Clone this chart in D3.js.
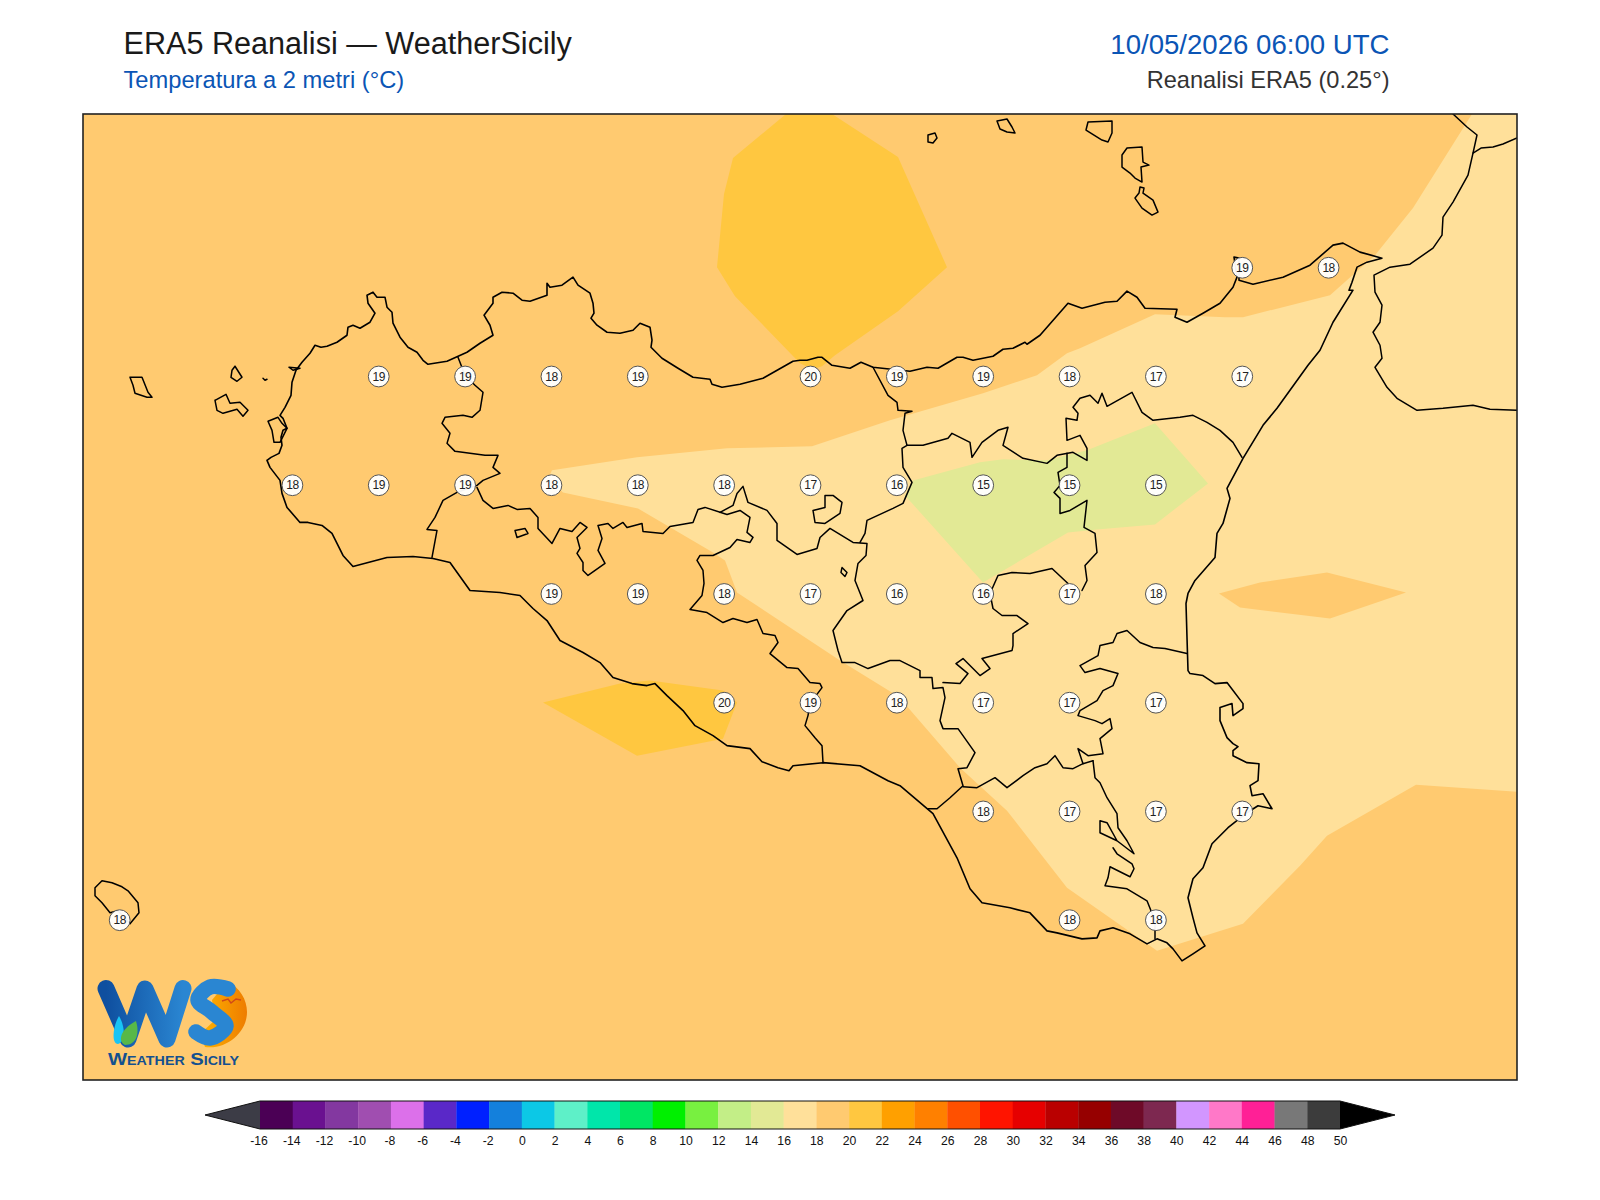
<!DOCTYPE html>
<html><head><meta charset="utf-8">
<script src="https://cdn.jsdelivr.net/npm/d3@7"></script>
<style>html,body{margin:0;padding:0;background:#fff}svg{display:block}text{font-family:"Liberation Sans",Arial,sans-serif}</style>
</head><body><div id="chart"></div>
<script>
// ---------- text ----------
const titleMain = "ERA5 Reanalisi — WeatherSicily";
const titleSub = "Temperatura a 2 metri (°C)";
const titleDate = "10/05/2026 06:00 UTC";
const titleSource = "Reanalisi ERA5 (0.25°)";
const logoText = "Weather Sicily";

// ---------- grid-point labels (ERA5 0.25°) ----------
const stationLon = [15.25,15.5,
 12.75,13,13.25,13.5,14,14.25,14.5,14.75,15,15.25,
 12.5,12.75,13,13.25,13.5,13.75,14,14.25,14.5,14.75,15,
 13.25,13.5,13.75,14,14.25,14.5,14.75,15,
 13.75,14,14.25,14.5,14.75,15,
 14.5,14.75,15,15.25,
 12,14.75,15];
const stationLat = [38.25,38.25,
 38,38,38,38,38,38,38,38,38,38,
 37.75,37.75,37.75,37.75,37.75,37.75,37.75,37.75,37.75,37.75,37.75,
 37.5,37.5,37.5,37.5,37.5,37.5,37.5,37.5,
 37.25,37.25,37.25,37.25,37.25,37.25,
 37,37,37,37,
 36.75,36.75,36.75];
const stationTemp = [19,18,
 19,19,18,19,20,19,19,18,17,17,
 18,19,19,18,18,18,17,16,15,15,15,
 19,19,18,17,16,16,17,18,
 20,19,18,17,17,17,
 18,17,17,17,
 18,18,18];

// ---------- colour scale ----------
const levels = d3.range(-16, 51, 2);
const levelColors = ["#4b0055","#6a1190","#8338a0","#a04eb0","#dc70ea","#5a28c8","#0020ff","#1480dc","#0cc8e6","#5ef0c8","#00e6aa","#00e664","#00f000","#78f040","#c3ee87","#e2e995","#ffe09a","#ffca70","#ffc740","#ffa000","#ff8000","#ff5000","#ff1400","#e60000","#b90000","#960000","#6e0a28","#7d2850","#d296ff","#ff78c8","#ff2096","#787878","#3c3c3c"];
const underColor = "#3c3c46", overColor = "#000000";
const colorOf = d3.scaleThreshold().domain(levels.slice(1,-1)).range(levelColors);

// ---------- temperature bands, map units ----------
const band16to18 = [[1389,0],[1330,94],[1292,141],[1247,181],[1160,203],[1142,203],[1072,200],[997,234],[984,239],[954,261],[900,279],[807,306],[729,332],[644,334],[554,343],[469,356],[465,364],[480,378],[555,394],[630,438],[642,446],[654,478],[757,546],[817,583],[825,593],[877,653],[924,696],[984,773],[1074,836],[1160,809],[1217,751],[1244,721],[1333,670],[1434,677],[1434,0]];
const band18Patch = [[1136,479],[1177,468],[1244,458],[1323,478],[1247,504],[1157,493]];
const band14to16 = [[830,366],[897,348],[920,345],[964,346],[984,341],[1004,336],[1072,309],[1125,369],[1072,410],[1014,415],[985,418],[900,468],[822,381]];
const band20North = [[703,0],[749,0],[815,43],[864,153],[815,197],[752,241],[739,252],[729,255],[717,249],[652,182],[634,153],[641,80],[650,44]];
const band20South = [[460,588],[537,569],[567,566],[640,576],[654,588],[640,624],[554,641]];

// ---------- geography, map units ----------
const sicilyCoast = [[184,346],[188,343],[196,339],[199,331],[198,323],[200,316],[204,314],[200,304],[197,301],[202,293],[208,281],[209,268],[213,256],[219,248],[227,239],[232,231],[238,233],[244,232],[254,228],[264,221],[265,213],[270,211],[277,214],[287,208],[292,199],[285,189],[284,181],[290,178],[294,183],[302,183],[304,193],[309,198],[310,209],[317,223],[325,233],[334,238],[340,246],[345,250],[364,247],[384,238],[397,229],[410,221],[407,211],[401,201],[410,189],[410,183],[419,178],[430,179],[439,186],[447,187],[464,181],[464,169],[467,173],[479,171],[490,163],[495,171],[507,179],[510,189],[511,199],[508,204],[514,211],[524,218],[537,219],[550,216],[557,209],[567,213],[569,226],[568,233],[579,244],[595,254],[610,263],[627,265],[629,270],[639,273],[657,270],[680,264],[710,247],[717,246],[724,246],[735,243],[739,243],[749,251],[767,254],[778,248],[790,253],[827,257],[844,253],[855,254],[874,243],[880,243],[890,246],[910,242],[920,235],[930,234],[942,228],[944,230],[957,221],[985,189],[999,194],[1022,188],[1034,187],[1044,177],[1054,183],[1062,194],[1094,195],[1092,203],[1104,208],[1120,199],[1137,189],[1150,173],[1154,163],[1151,143],[1156,144],[1156,166],[1170,170],[1200,163],[1227,151],[1250,131],[1260,129],[1277,138],[1299,144],[1284,148],[1274,153],[1269,168],[1266,176],[1270,176],[1250,208],[1237,236],[1225,251],[1194,294],[1180,311],[1160,344],[1144,374],[1147,384],[1140,409],[1134,419],[1132,443],[1112,466],[1105,479],[1103,489],[1104,523],[1105,556],[1107,559],[1120,561],[1132,569],[1144,568],[1160,589],[1160,594],[1150,601],[1149,589],[1137,593],[1137,606],[1144,623],[1150,629],[1155,632],[1150,636],[1150,641],[1164,648],[1176,649],[1175,666],[1167,671],[1169,681],[1180,679],[1189,694],[1175,691],[1164,698],[1145,713],[1129,729],[1120,753],[1110,764],[1105,783],[1110,803],[1114,818],[1122,831],[1110,839],[1099,846],[1090,834],[1084,828],[1074,824],[1064,829],[1047,819],[1030,813],[1017,816],[1014,823],[999,824],[974,818],[964,816],[947,798],[927,793],[899,788],[887,774],[874,743],[850,699],[817,671],[805,666],[777,651],[740,648],[710,651],[706,656],[695,653],[679,647],[667,634],[644,631],[630,621],[612,611],[600,596],[584,581],[572,569],[564,571],[549,569],[530,563],[517,548],[500,538],[477,526],[464,506],[450,494],[437,481],[417,478],[387,476],[367,448],[350,444],[330,442],[304,443],[270,452],[260,441],[249,419],[239,411],[225,408],[217,408],[204,393],[199,379],[197,366],[187,353],[184,346]];
const calabriaCoast = [[1370,0],[1384,13],[1394,21],[1390,39],[1385,61],[1370,88],[1360,103],[1359,121],[1350,134],[1327,150],[1307,153],[1291,161],[1292,178],[1299,191],[1297,208],[1290,218],[1297,231],[1299,244],[1292,253],[1304,273],[1314,284],[1334,296],[1360,294],[1390,291],[1407,295],[1434,296]];
const calabriaNorth = [[1390,39],[1398,34],[1410,33],[1420,30],[1434,24]];
const islands = [
 [[47,263],[59,263],[65,278],[69,283],[64,283],[52,279],[50,271],[47,263]],
 [[132,286],[143,280],[147,289],[157,288],[165,296],[160,302],[154,295],[140,299],[134,296],[132,286]],
 [[152,252],[159,263],[154,267],[148,263],[149,256],[152,252]],
 [[180,264],[182,266],[184,265]],
 [[206,253],[217,254],[210,256],[206,253]],
 [[185,307],[195,303],[199,309],[204,314],[197,328],[191,328],[189,316],[185,307]],
 [[845,21],[852,19],[854,24],[850,29],[845,28],[845,21]],
 [[914,7],[924,5],[929,13],[932,19],[924,18],[917,15],[914,7]],
 [[1005,8],[1029,7],[1029,19],[1025,28],[1019,26],[1003,16],[1005,8]],
 [[1044,34],[1059,33],[1060,48],[1066,51],[1058,53],[1059,68],[1052,64],[1047,59],[1039,53],[1039,41],[1044,34]],
 [[1057,73],[1061,74],[1060,79],[1070,86],[1075,98],[1069,101],[1059,94],[1052,84],[1056,79],[1057,73]],
 [[12,773],[19,766],[29,768],[39,772],[45,776],[55,788],[56,798],[47,809],[35,796],[27,798],[19,788],[12,781],[12,773]],
 [[432,416],[442,414],[445,419],[434,423],[432,416]],
 [[742,381],[750,381],[759,388],[757,399],[742,409],[732,408],[730,396],[742,393],[742,381]],
 [[759,453],[764,458],[762,462],[758,458],[759,453]]
];
const provinceLines = [
 [[375,243],[382,261],[392,271],[400,278],[397,296],[389,303],[380,301],[362,303],[359,309],[367,319],[364,329],[372,337],[402,341],[415,341],[410,353],[417,359],[400,366],[394,371],[374,378],[360,386],[352,403],[344,415],[354,416],[349,443]],
 [[394,373],[400,386],[410,394],[425,391],[434,395],[447,394],[455,403],[455,414],[469,429],[477,414],[489,417],[497,408],[504,413],[494,423],[497,434],[494,439],[500,448],[500,456],[505,461],[522,449],[515,436],[519,424],[515,411],[525,409],[530,414],[540,408],[544,413],[559,409],[560,417],[580,419],[587,412],[610,408],[615,395],[622,393],[644,400],[657,396],[667,403],[664,418],[670,423],[667,428],[654,425],[647,433],[630,441],[617,441],[614,446],[620,456],[621,469],[619,481],[607,495],[624,498],[640,508],[650,504],[664,508],[674,505],[680,519],[692,521],[695,528],[687,539],[704,553],[715,554],[727,568],[737,569],[739,573],[727,589],[725,601],[722,611],[732,623],[739,631],[740,648]],
 [[637,398],[650,391],[654,379],[660,372],[665,388],[684,396],[694,409],[694,426],[714,440],[734,434],[737,423],[747,414],[770,428],[784,429],[783,441],[775,449],[772,466],[780,486],[764,496],[750,516],[755,536],[759,548],[772,548],[785,554],[807,546],[817,546],[837,556],[837,563],[849,563],[850,574],[860,573],[862,583],[857,606],[860,614],[875,614],[892,638],[884,653],[875,654],[880,671],[867,683],[854,694],[845,694]],
 [[790,253],[805,281],[814,288],[815,296],[829,297],[822,299],[820,316],[824,331],[819,334],[820,353],[829,368],[820,389],[810,394],[784,406],[782,419],[777,428]],
 [[824,331],[840,331],[865,324],[869,319],[887,328],[889,343],[899,328],[915,316],[925,313],[920,331],[940,344],[964,349],[974,341],[990,338],[1004,346],[1004,334],[997,321],[984,326],[983,304],[994,306],[995,299],[990,293],[997,284],[1007,281],[1015,289],[1019,279],[1024,292],[1049,278],[1059,298],[1070,306],[1097,303],[1110,301],[1124,308],[1137,316],[1150,328],[1159,343]],
 [[984,339],[984,353],[975,358],[977,371],[971,378],[977,384],[977,399],[987,396],[1004,386],[1001,413],[1012,419],[1014,438],[1002,451],[1004,466],[999,476]],
 [[985,469],[969,454],[947,459],[929,458],[915,461],[907,479],[910,494],[919,501],[934,501],[945,509],[930,519],[930,531],[929,536],[899,544],[907,554],[897,561],[880,544],[873,549],[885,559],[877,569],[860,568]],
 [[1104,539],[1082,534],[1070,533],[1057,528],[1044,516],[1034,519],[1030,528],[1017,531],[1015,541],[997,551],[1002,558],[1017,554],[1035,559],[1030,571],[1020,576],[1014,586],[997,596],[995,601],[1012,606],[1019,609],[1027,604],[1029,614],[1017,624],[1020,639],[1005,641],[995,634],[1000,649],[1010,646]],
 [[1000,649],[990,654],[980,653],[972,641],[964,649],[952,653],[940,661],[924,673],[912,663],[894,673],[880,672]],
 [[1010,646],[1012,663],[1017,668],[1024,683],[1034,699],[1035,713],[1044,726],[1051,739],[1034,726],[1017,718],[1017,706],[1024,708],[1034,726]],
 [[1030,733],[1034,739],[1049,749],[1051,754],[1047,762],[1027,752],[1025,763],[1022,771],[1044,774],[1064,786],[1072,806],[1072,824]]
];

// ---------- layout ----------
const W = 1600, H = 1200;
const frame = {x0:83, y0:114, x1:1517, y1:1080};
const cbar = {x0:260, x1:1340, y0:1101, y1:1129, tipL:205, tipR:1395};

const svg = d3.select("#chart").append("svg").attr("width",W).attr("height",H);

const mapX = d3.scaleLinear().domain([0,1434]).range([frame.x0,frame.x1]);
const mapY = d3.scaleLinear().domain([0,965]).range([frame.y0,frame.y1]);
const lonScale = d3.scaleLinear().domain([12,15.5]).range([119.7,1328.6]);
const latScale = d3.scaleLinear().domain([38,36.75]).range([376.5,920.2]);
const mapLine = d3.line().x(d=>mapX(d[0])).y(d=>mapY(d[1]));

svg.append("clipPath").attr("id","mapclip").append("rect")
 .attr("x",frame.x0).attr("y",frame.y0).attr("width",frame.x1-frame.x0).attr("height",frame.y1-frame.y0);

const map = svg.append("g").attr("clip-path","url(#mapclip)");
map.append("rect").attr("x",frame.x0).attr("y",frame.y0).attr("width",frame.x1-frame.x0).attr("height",frame.y1-frame.y0).attr("fill",colorOf(19));

const bands = [[band16to18,17],[band18Patch,19],[band14to16,15],[band20North,21],[band20South,21]];
map.selectAll("path.band").data(bands).join("path").attr("class","band")
 .attr("d",d=>mapLine(d[0])+"Z").attr("fill",d=>colorOf(d[1]));

const lines = map.append("g").attr("fill","none").attr("stroke","#000").attr("stroke-linejoin","round").attr("stroke-linecap","round");
lines.selectAll("path.prov").data(provinceLines).join("path").attr("class","prov").attr("d",mapLine).attr("stroke-width",1.5);
lines.append("path").attr("d",mapLine(sicilyCoast)).attr("stroke-width",1.6);
lines.append("path").attr("d",mapLine(calabriaCoast)).attr("stroke-width",1.5);
lines.append("path").attr("d",mapLine(calabriaNorth)).attr("stroke-width",1.5);
lines.selectAll("path.isl").data(islands).join("path").attr("class","isl").attr("d",mapLine).attr("stroke-width",1.5);

const st = map.selectAll("g.st").data(stationTemp).join("g").attr("class","st")
 .attr("transform",(d,i)=>`translate(${lonScale(stationLon[i])},${latScale(stationLat[i])})`);
st.append("circle").attr("r",10.4).attr("fill","#fff").attr("fill-opacity",0.95).attr("stroke","#555").attr("stroke-width",1);
st.append("text").attr("text-anchor","middle").attr("y",4.2).attr("font-size",12).attr("letter-spacing",-0.5).attr("fill","#222").text(d=>d);

// ---------- logo ----------
const logo = svg.append("g");
const defs = svg.append("defs");
const g1 = defs.append("linearGradient").attr("id","wgrad").attr("x1","0").attr("x2","1");
g1.append("stop").attr("offset","0").attr("stop-color","#0f4f9f");
g1.append("stop").attr("offset","1").attr("stop-color","#2a86d2");
const g2 = defs.append("linearGradient").attr("id","sgrad").attr("x1","0").attr("x2","1");
g2.append("stop").attr("offset","0").attr("stop-color","#ffb400");
g2.append("stop").attr("offset","1").attr("stop-color","#ee7c00");
logo.append("path").attr("d","M227,982 C240,987 247,1000 247,1012 C247,1033 226,1050 205,1047 L200,1034 L215,1020 L212,1000 Z").attr("fill","url(#sgrad)");
logo.append("path").attr("d","M106,988.5 L128,1039 L145,989 L167,1039 L183,988.5").attr("fill","none").attr("stroke","url(#wgrad)").attr("stroke-width",17).attr("stroke-linejoin","round").attr("stroke-linecap","round");
const sCurve = d3.line().curve(d3.curveCatmullRom)([[228,989],[210,987],[198,1000],[212,1012],[226,1026],[210,1038],[196,1032]]);
logo.append("path").attr("d",sCurve).attr("fill","none").attr("stroke","#2a86d2").attr("stroke-width",15.5).attr("stroke-linecap","round");
logo.append("path").attr("d","M119,1016 C126,1028 125,1042 118,1044 C111,1044 113,1026 119,1016 Z").attr("fill","#18c4f4");
logo.append("path").attr("d","M136,1021 C140,1034 136,1045 125,1045 C118,1042 119,1030 136,1021 Z").attr("fill","#58b848");
logo.append("path").attr("d","M222,1001 L228,999 L231,1003 L236,999 L241,1000").attr("fill","none").attr("stroke","#d04818").attr("stroke-width",1.4);
logo.append("text").attr("x",108).attr("y",1065).attr("font-size",17).attr("font-weight",700).attr("font-variant","small-caps").attr("textLength",131).attr("lengthAdjust","spacingAndGlyphs").attr("fill","#14508f").text(logoText);

// frame
svg.append("rect").attr("x",frame.x0).attr("y",frame.y0).attr("width",frame.x1-frame.x0).attr("height",frame.y1-frame.y0).attr("fill","none").attr("stroke","#222").attr("stroke-width",1.6);

// ---------- titles ----------
svg.append("text").attr("x",123.5).attr("y",53.5).attr("font-size",30.6).attr("fill","#1a1a1a").text(titleMain);
svg.append("text").attr("x",123.5).attr("y",88).attr("font-size",23.7).attr("fill","#0b55b5").text(titleSub);
svg.append("text").attr("x",1389.5).attr("y",53.5).attr("text-anchor","end").attr("font-size",27.6).attr("fill","#0b55b5").text(titleDate);
svg.append("text").attr("x",1389.5).attr("y",88).attr("text-anchor","end").attr("font-size",23.6).attr("fill","#333").text(titleSource);

// ---------- colour bar ----------
const cbX = d3.scaleLinear().domain([levels[0],levels[levels.length-1]]).range([cbar.x0,cbar.x1]);
const cb = svg.append("g");
const cells = levels.slice(0,-1);
cb.selectAll("rect").data(cells).join("rect")
 .attr("x",d=>cbX(d)).attr("y",cbar.y0).attr("width",d=>cbX(d+2)-cbX(d)+0.3).attr("height",cbar.y1-cbar.y0)
 .attr("fill",d=>colorOf(d+1));
const yMid=(cbar.y0+cbar.y1)/2;
cb.append("path").attr("d",`M${cbar.x0},${cbar.y0}L${cbar.tipL},${yMid}L${cbar.x0},${cbar.y1}Z`).attr("fill",underColor);
cb.append("path").attr("d",`M${cbar.x1},${cbar.y0}L${cbar.tipR},${yMid}L${cbar.x1},${cbar.y1}Z`).attr("fill",overColor);
cb.append("path").attr("d",`M${cbar.x0},${cbar.y0}L${cbar.tipL},${yMid}L${cbar.x0},${cbar.y1}L${cbar.x1},${cbar.y1}L${cbar.tipR},${yMid}L${cbar.x1},${cbar.y0}Z`).attr("fill","none").attr("stroke","#111").attr("stroke-width",1);
const axis = d3.axisBottom(cbX).tickValues(levels).tickSize(0).tickPadding(7).tickFormat(d=>String(d));
const ag = svg.append("g").attr("transform",`translate(0,${cbar.y1})`).call(axis);
ag.select(".domain").remove();
ag.selectAll("text").attr("font-size",12.2).attr("font-family",'"Liberation Sans",Arial,sans-serif').attr("fill","#111")
 .attr("dx",d=>d<0?-1.5:0);
</script>
</body></html>
